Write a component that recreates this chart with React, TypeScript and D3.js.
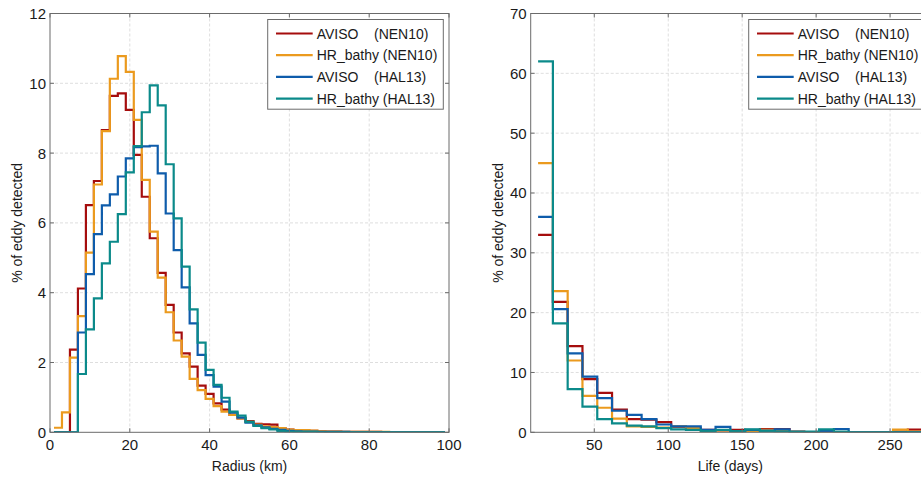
import React from "react";
import * as d3 from "d3";

// ---------- DATA ----------
const seriesNames = ["AVISO    (NEN10)", "HR_bathy (NEN10)", "AVISO    (HAL13)", "HR_bathy (HAL13)"];
const seriesColors = ["#A50D0D", "#EB9A1E", "#0E5CAB", "#0B8A8A"];

// Radius histogram: bins of 2 km, edges 1,3,5,...,99
const radiusEdges = d3.range(1, 100, 2);
const radiusAvisoNEN10 = [0, 0, 2.37, 4.12, 6.51, 7.2, 8.66, 9.64, 9.71, 9.24, 7.95, 6.75, 5.56, 4.57, 3.65, 2.86, 2.26, 1.88, 1.34, 1.1, 0.83, 0.65, 0.5, 0.4, 0.32, 0.24, 0.23, 0.22, 0.12, 0.08, 0.06, 0.05, 0.04, 0.03, 0.02, 0.02, 0.01, 0.01, 0.01, 0.01, 0.01, 0, 0, 0, 0, 0, 0, 0, 0];
const radiusHRNEN10 = [0.13, 0.57, 2.14, 3.33, 5.15, 7.1, 8.63, 10.13, 10.78, 10.33, 8.95, 7.23, 5.75, 4.43, 3.44, 2.63, 2.17, 1.53, 1.21, 0.96, 0.75, 0.59, 0.5, 0.4, 0.3, 0.22, 0.17, 0.15, 0.12, 0.08, 0.06, 0.06, 0.05, 0.03, 0.02, 0.02, 0.01, 0.01, 0.01, 0.01, 0.01, 0.01, 0, 0, 0, 0, 0, 0, 0];
const radiusAvisoHAL13 = [0, 0, 0, 2.86, 4.53, 5.68, 6.5, 6.82, 7.33, 7.85, 8.17, 8.19, 8.21, 7.42, 6.27, 5.22, 4.15, 3.12, 2.22, 1.64, 1.31, 0.88, 0.56, 0.42, 0.28, 0.2, 0.14, 0.1, 0.07, 0.04, 0.03, 0.02, 0.02, 0.01, 0.01, 0.01, 0.01, 0, 0, 0, 0, 0, 0, 0, 0, 0, 0, 0, 0];
const radiusHRHAL13 = [0, 0, 0, 1.67, 2.95, 3.84, 4.84, 5.46, 6.25, 7.45, 8.2, 9.17, 9.94, 9.37, 7.68, 6.13, 4.75, 3.52, 2.57, 1.79, 1.36, 0.99, 0.59, 0.48, 0.3, 0.18, 0.12, 0.08, 0.04, 0.02, 0.01, 0.01, 0.01, 0, 0, 0, 0, 0, 0, 0, 0, 0, 0, 0, 0, 0, 0, 0, 0];

// Life histogram: bins of 10 days, edges 12,22,...,282
const lifeEdges = d3.range(12, 283, 10);
const lifeAvisoNEN10 = [33, 21.8, 14.4, 8.9, 6.6, 3.8, 2.2, 2.1, 1.7, 0.9, 0.7, 0.4, 0.3, 0.4, 0.3, 0.55, 0.55, 0.1, 0, 0.1, 0, 0, 0, 0, 0.1, 0.45, 0.1];
const lifeHRNEN10 = [45, 23.6, 12.0, 6.1, 4.1, 2.3, 1.0, 0.9, 0.8, 1.0, 0.7, 0.2, 0.3, 0.1, 0.2, 0.4, 0.2, 0.05, 0, 0, 0, 0, 0, 0, 0.45, 0.1, 0.1];
const lifeAvisoHAL13 = [36, 20.6, 13.2, 9.3, 5.7, 3.6, 2.9, 2.2, 1.3, 1.0, 1.0, 0.4, 0.9, 0.2, 0.4, 0.3, 0.5, 0, 0, 0.2, 0.55, 0, 0, 0, 0, 0, 0];
const lifeHRHAL13 = [62, 18.2, 7.2, 4.3, 2.2, 1.5, 1.1, 1.0, 0.7, 0.5, 0.4, 0.2, 0.4, 0.2, 0.5, 0.2, 0.1, 0.1, 0.1, 0.5, 0.1, 0, 0, 0, 0, 0, 0];

const radiusXTicks = [0, 20, 40, 60, 80, 100];
const radiusYTicks = [0, 2, 4, 6, 8, 10, 12];
const lifeXTicks = [50, 100, 150, 200, 250];
const lifeYTicks = [0, 10, 20, 30, 40, 50, 60, 70];

// ---------- LAYOUT ----------
const W = 921;
const H = 478;
const FONT = "'Liberation Sans', Arial, Helvetica, sans-serif";
const AXIS_COLOR = "#6b6b6b";
const TEXT_COLOR = "#1a1a1a";

type Panel = {
  id: string;
  x0: number; x1: number; y0: number; y1: number;
  xDomain: [number, number]; yDomain: [number, number];
  xTicks: number[]; yTicks: number[];
  xLabel: string; yLabel: string;
  edges: number[];
  series: number[][];
};

const panels: Panel[] = [
  {
    id: "radius", x0: 50, x1: 449, y0: 13.5, y1: 432.3,
    xDomain: [0, 100], yDomain: [0, 12],
    xTicks: radiusXTicks, yTicks: radiusYTicks,
    xLabel: "Radius (km)", yLabel: "% of eddy detected",
    edges: radiusEdges,
    series: [radiusAvisoNEN10, radiusHRNEN10, radiusAvisoHAL13, radiusHRHAL13],
  },
  {
    id: "life", x0: 530.7, x1: 930, y0: 13.5, y1: 432.3,
    xDomain: [7, 277], yDomain: [0, 70],
    xTicks: lifeXTicks, yTicks: lifeYTicks,
    xLabel: "Life (days)", yLabel: "% of eddy detected",
    edges: lifeEdges,
    series: [lifeAvisoNEN10, lifeHRNEN10, lifeAvisoHAL13, lifeHRHAL13],
  },
];

function PanelView({ p }: { p: Panel }) {
  const xs = d3.scaleLinear().domain(p.xDomain).range([p.x0, p.x1]);
  const ys = d3.scaleLinear().domain(p.yDomain).range([p.y1, p.y0]);
  const line = d3
    .line<[number, number]>()
    .x((d) => xs(d[0]))
    .y((d) => ys(d[1]))
    .curve(d3.curveStepAfter);
  const tickLen = 4;
  const legW = 175.6;
  const legH = 89.7;
  const legX = p.x1 - 5.7 - legW;
  const legY = p.y0 + 6;
  const rowGap = 21.7;
  const clipId = `clip-${p.id}`;
  const xGrid = p.xTicks.filter((t) => t > p.xDomain[0] && t < p.xDomain[1]);
  const yGrid = p.yTicks.filter((t) => t > p.yDomain[0] && t < p.yDomain[1]);
  return (
    <g>
      <defs>
        <clipPath id={clipId}>
          <rect x={p.x0} y={p.y0} width={p.x1 - p.x0} height={p.y1 - p.y0} />
        </clipPath>
      </defs>
      <rect x={p.x0} y={p.y0} width={p.x1 - p.x0} height={p.y1 - p.y0} fill="#fff" />
      {/* grid */}
      {xGrid.map((t) => (
        <line key={`gx${t}`} x1={xs(t)} x2={xs(t)} y1={p.y0} y2={p.y1} stroke="#d6d6d6" strokeWidth={0.8} strokeDasharray="3,2" />
      ))}
      {yGrid.map((t) => (
        <line key={`gy${t}`} x1={p.x0} x2={p.x1} y1={ys(t)} y2={ys(t)} stroke="#d6d6d6" strokeWidth={0.8} strokeDasharray="3,2" />
      ))}
      {/* series */}
      <g clipPath={`url(#${clipId})`}>
        {p.series.map((vals, si) => {
          const pts: [number, number][] = vals.map((v, i) => [p.edges[i], v] as [number, number]);
          pts.push([p.edges[vals.length], vals[vals.length - 1]]);
          return (
            <path key={si} d={line(pts) || ""} fill="none" stroke={seriesColors[si]} strokeWidth={2.2} strokeLinejoin="miter" />
          );
        })}
      </g>
      {/* box */}
      <rect x={p.x0} y={p.y0} width={p.x1 - p.x0} height={p.y1 - p.y0} fill="none" stroke={AXIS_COLOR} strokeWidth={1} />
      {/* ticks */}
      {p.xTicks.map((t) => (
        <g key={`tx${t}`}>
          <line x1={xs(t)} x2={xs(t)} y1={p.y1} y2={p.y1 - tickLen} stroke={AXIS_COLOR} />
          <line x1={xs(t)} x2={xs(t)} y1={p.y0} y2={p.y0 + tickLen} stroke={AXIS_COLOR} />
          <text x={xs(t)} y={p.y1 + 17.5} textAnchor="middle" fontSize={15} fill={TEXT_COLOR} fontFamily={FONT}>
            {t}
          </text>
        </g>
      ))}
      {p.yTicks.map((t) => (
        <g key={`ty${t}`}>
          <line x1={p.x0} x2={p.x0 + tickLen} y1={ys(t)} y2={ys(t)} stroke={AXIS_COLOR} />
          <line x1={p.x1} x2={p.x1 - tickLen} y1={ys(t)} y2={ys(t)} stroke={AXIS_COLOR} />
          <text x={p.x0 - 4} y={ys(t)} dy="0.36em" textAnchor="end" fontSize={15} fill={TEXT_COLOR} fontFamily={FONT}>
            {t}
          </text>
        </g>
      ))}
      {/* axis labels */}
      <text x={(p.x0 + p.x1) / 2} y={p.y1 + 38.7} textAnchor="middle" fontSize={14} fill={TEXT_COLOR} fontFamily={FONT}>
        {p.xLabel}
      </text>
      <text
        transform={`translate(${p.x0 - 28},${(p.y0 + p.y1) / 2}) rotate(-90)`}
        textAnchor="middle" fontSize={14} fill={TEXT_COLOR} fontFamily={FONT}
      >
        {p.yLabel}
      </text>
      {/* legend */}
      <rect x={legX} y={legY} width={legW} height={legH} fill="#fff" stroke={AXIS_COLOR} strokeWidth={1} />
      {seriesNames.map((name, i) => {
        const cy = legY + 14 + i * rowGap;
        return (
          <g key={name + i}>
            <line x1={legX + 8.3} x2={legX + 45} y1={cy} y2={cy} stroke={seriesColors[i]} strokeWidth={2.2} />
            <text x={legX + 49} y={cy} dy="0.36em" fontSize={14} fill={TEXT_COLOR} fontFamily={FONT} style={{ whiteSpace: "pre" }}>
              {name}
            </text>
          </g>
        );
      })}
    </g>
  );
}

export default function App() {
  return (
    <svg
      width={W}
      height={H}
      viewBox={`0 0 ${W} ${H}`}
      style={{ position: "absolute", left: 0, top: 0, background: "#fff", overflow: "hidden" }}
    >
      <rect x={0} y={0} width={W} height={H} fill="#fff" />
      {panels.map((p) => (
        <PanelView key={p.id} p={p} />
      ))}
    </svg>
  );
}
